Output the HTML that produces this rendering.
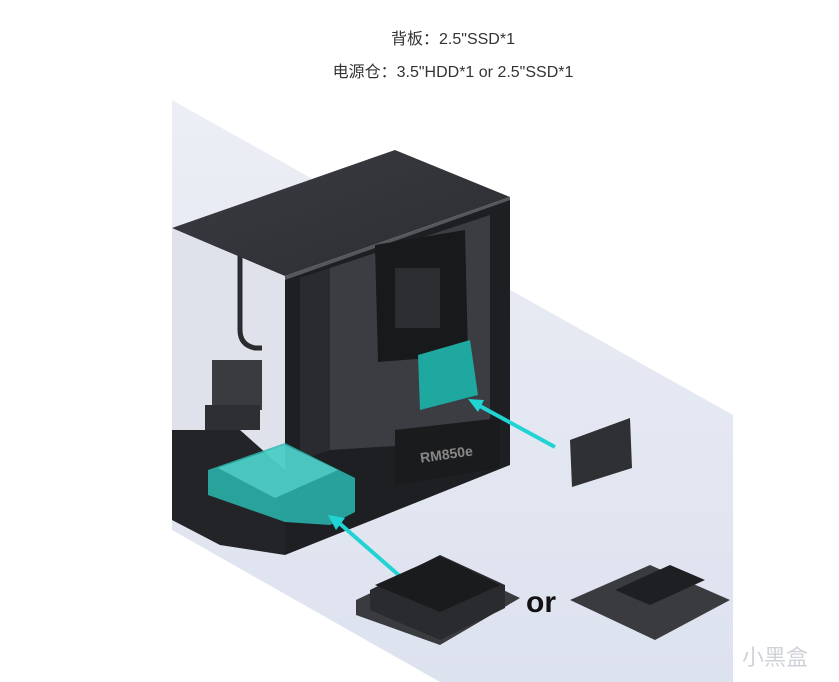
<!DOCTYPE html>
<html><head><meta charset="utf-8"><style>
html,body{margin:0;padding:0;background:#fff;}
body{width:839px;height:682px;overflow:hidden;position:relative;font-family:"Liberation Sans","Noto Sans CJK SC",sans-serif;}
.t{position:absolute;left:0;width:906px;text-align:center;color:#333;font-size:16px;}
</style></head><body>
<svg width="839" height="682" style="position:absolute;left:0;top:0">
<defs>
<linearGradient id="bg" x1="0" y1="0" x2="0" y2="1"><stop offset="0" stop-color="#eceef5"/><stop offset="1" stop-color="#dde2ef"/></linearGradient>
<linearGradient id="top" x1="0" y1="0" x2="1" y2="1"><stop offset="0" stop-color="#3a3c42"/><stop offset="1" stop-color="#2b2d31"/></linearGradient>
</defs>
<polygon points="172,100 733,415 733,682 440,682 172,530" fill="url(#bg)"/>
<polygon points="172,228 285,276 285,555 172,520" fill="#dfe2ea"/>
<path d="M240,255 L240,330 Q240,345 255,348 L262,348" stroke="#2a2b2f" stroke-width="5" fill="none"/>
<rect x="212" y="360" width="50" height="50" fill="#3a3b3f"/>
<rect x="205" y="405" width="55" height="25" fill="#2e2f33"/>
<polygon points="172,430 240,430 285,470 285,555 220,545 172,520" fill="#232427"/>
<polygon points="172,228 395,150 510,197 285,276" fill="url(#top)"/>
<polygon points="285,276 510,197 510,205 285,285" fill="#55575d"/>
<polygon points="285,280 510,200 510,465 285,555" fill="#1e1f22"/>
<polygon points="300,278 330,268 330,450 300,460" fill="#2a2b2f"/>
<polygon points="330,268 490,215 490,440 330,450" fill="#3b3d42"/>
<polygon points="375,245 465,230 468,355 378,362" fill="#18191b"/>
<rect x="395" y="268" width="45" height="60" fill="#2c2d31"/>
<polygon points="395,430 500,418 500,468 395,485" fill="#1a1b1d"/>
<text x="420" y="460" font-size="14" font-weight="bold" fill="#888" font-family="Liberation Sans" transform="rotate(-8 440 455)">RM850e</text>
<polygon points="418,355 470,340 478,395 420,410" fill="#1fa8a0"/>
<polygon points="208,470 285,443 355,478 355,512 330,525 285,522 208,495" fill="#2ab9b2" opacity="0.85"/>
<polygon points="218,468 285,445 338,470 275,498" fill="#5ad6cf" opacity="0.7"/>
<line x1="555" y1="447" x2="478" y2="405" stroke="#22d3d3" stroke-width="4"/>
<polygon points="468,399 484,400 478,412" fill="#22d3d3"/>
<line x1="410" y1="585" x2="338" y2="522" stroke="#22d3d3" stroke-width="4"/>
<polygon points="328,515 345,518 336,530" fill="#22d3d3"/>
<polygon points="570,440 630,418 632,468 572,487" fill="#2f3034"/>
<polygon points="356,600 440,560 520,598 440,645 356,615" fill="#3a3b3f"/>
<polygon points="370,590 440,555 505,585 505,608 440,640 370,610" fill="#2a2b2f"/>
<polygon points="375,585 440,556 500,585 440,612" fill="#1a1b1d"/>
<text x="526" y="612" font-size="30" font-weight="bold" fill="#111" font-family="Liberation Sans">or</text>
<polygon points="570,600 650,565 730,600 655,640" fill="#3a3b3f"/>
<polygon points="615,590 670,565 705,580 650,605" fill="#1e1f22"/>
<text x="742" y="665" font-size="22" fill="#cfd2d8" font-family="Noto Sans CJK SC">小黑盒</text>
</svg>
<div class="t" style="top:25px">背板：2.5"SSD*1</div>
<div class="t" style="top:58px">电源仓：3.5"HDD*1 or 2.5"SSD*1</div>
</body></html>
